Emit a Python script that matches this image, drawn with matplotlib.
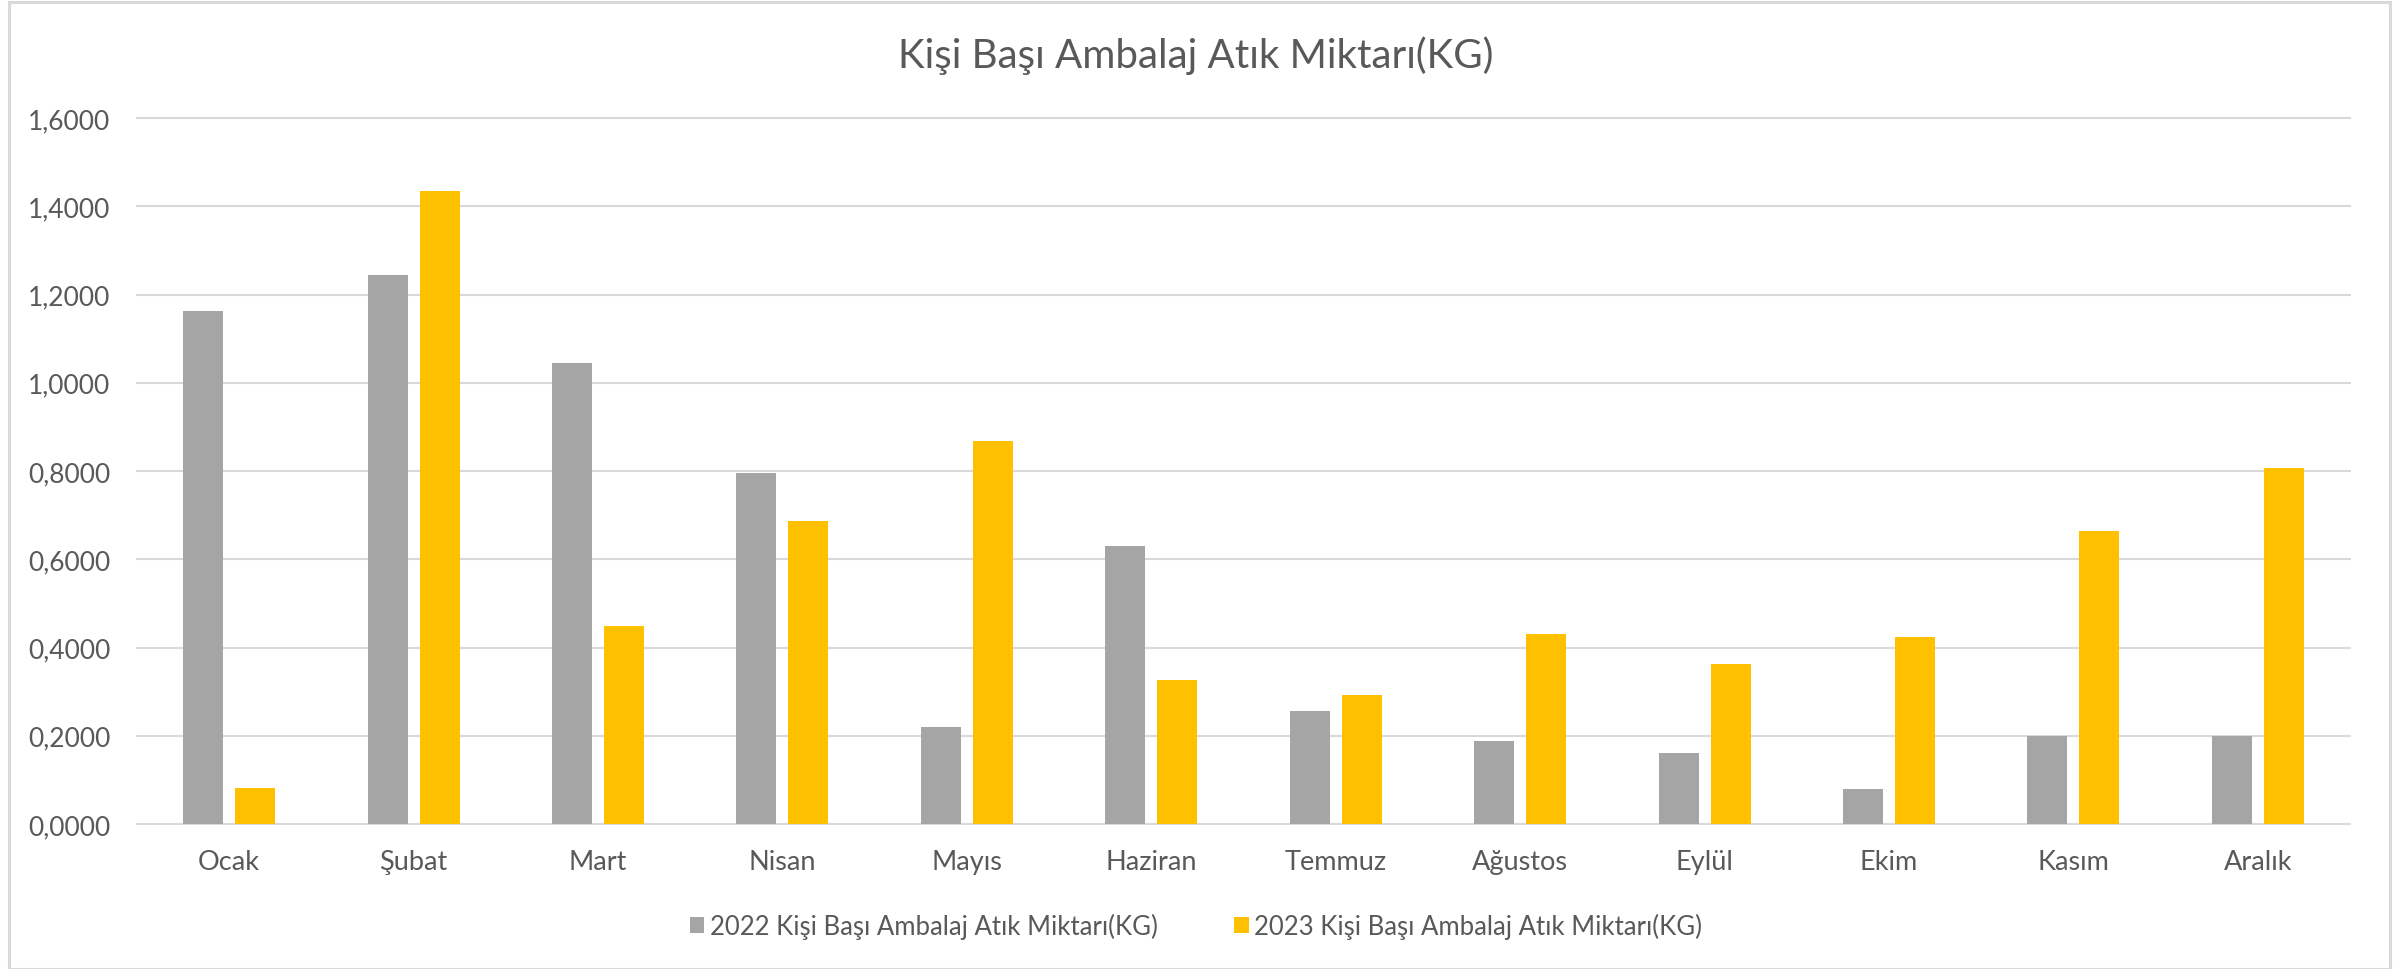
import matplotlib
matplotlib.use("Agg")
import matplotlib.pyplot as plt
import numpy as np
from matplotlib.patches import Rectangle, Patch

months = ["Ocak", "Şubat", "Mart", "Nisan", "Mayıs", "Haziran",
          "Temmuz", "Ağustos", "Eylül", "Ekim", "Kasım", "Aralık"]
values_2022 = [1.162, 1.244, 1.045, 0.795, 0.220, 0.631,
               0.255, 0.189, 0.162, 0.080, 0.200, 0.200]
values_2023 = [0.082, 1.434, 0.449, 0.687, 0.868, 0.327,
               0.293, 0.431, 0.362, 0.423, 0.665, 0.807]
series_names = ["2022 Kişi Başı Ambalaj Atık Miktarı(KG)",
                "2023 Kişi Başı Ambalaj Atık Miktarı(KG)"]
title = "Kişi Başı Ambalaj Atık Miktarı(KG)"
y_ticks = [0.0, 0.2, 0.4, 0.6, 0.8, 1.0, 1.2, 1.4, 1.6]

GRAY = "#A5A5A5"
GOLD = "#FFC000"
TEXT = "#595959"
GRID = "#D9D9D9"

plt.rcParams["font.family"] = ["Lato", "DejaVu Sans"]

W, H = 2395, 970
fig = plt.figure(figsize=(W / 100, H / 100), dpi=100)
fig.patch.set_facecolor("white")

# chart area border
fig.patches.append(Rectangle((9 / W, 0), (2390 - 9) / W, 1 - 3 / H,
                             transform=fig.transFigure, fill=False,
                             edgecolor=GRID, linewidth=2.2, zorder=0))

left, right, top, bottom = 137, 2350, 119, 825
ax = fig.add_axes([left / W, 1 - bottom / H, (right - left) / W, (bottom - top) / H])

x = np.arange(len(months))
bw = 0.217
off = 0.141
ax.bar(x - off, values_2022, bw, color=GRAY, zorder=3, label=series_names[0])
ax.bar(x + off, values_2023, bw, color=GOLD, zorder=3, label=series_names[1])

ax.set_xlim(-0.5, len(months) - 0.5)
ax.set_ylim(0, 1.6)
ax.set_yticks(y_ticks)
ax.set_yticklabels([f"{v:.4f}".replace(".", ",") for v in y_ticks])
ax.set_xticks(x)
ax.set_xticklabels(months)

for s in ax.spines.values():
    s.set_visible(False)
ax.grid(axis="y", color=GRID, linewidth=1.5, zorder=0)
for gl in ax.get_ygridlines():
    gl.set_clip_on(False)
ax.tick_params(axis="both", length=0, colors=TEXT)
ax.tick_params(axis="y", pad=19, labelsize=19)
ax.tick_params(axis="x", pad=18, labelsize=19.5)

fig.text(1196 / W, 1 - 56 / H, title, ha="center", va="center",
         fontsize=29, color=TEXT)

handles = [Patch(facecolor=GRAY), Patch(facecolor=GOLD)]
leg = fig.legend(handles, series_names, loc="center",
                 bbox_to_anchor=(1196 / W, 1 - 927 / H), ncol=2, frameon=False,
                 fontsize=18.5, handlelength=0.55, handleheight=0.6,
                 handletextpad=0.2, columnspacing=3.0)
for t in leg.get_texts():
    t.set_color(TEXT)

fig.savefig("out.png", dpi=100, facecolor="white")
